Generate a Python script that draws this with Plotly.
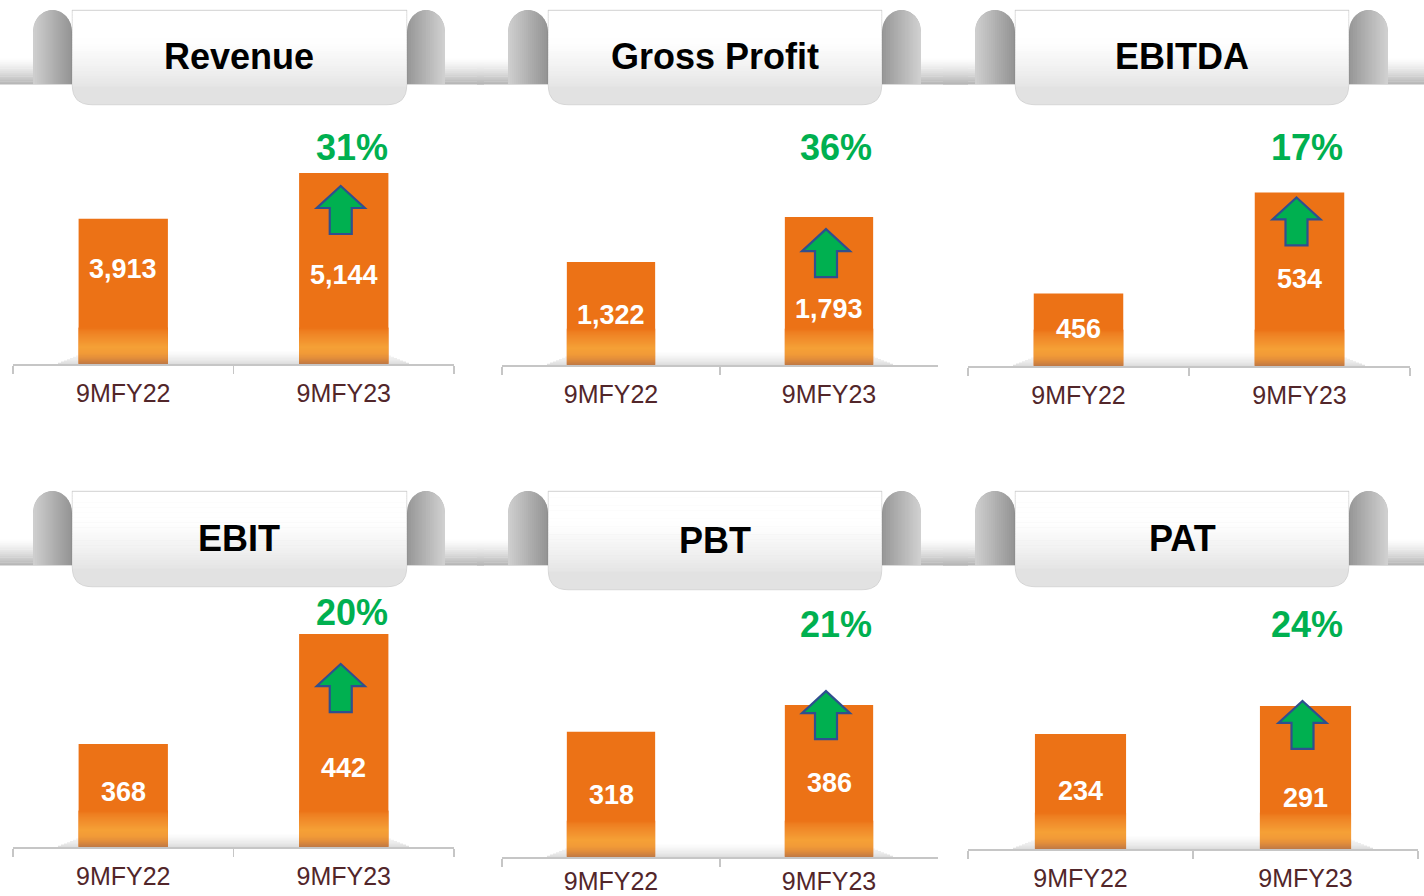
import plotly.graph_objects as go

W, H = 1424, 896

# ---------------- data ----------------
categories = ["9MFY22", "9MFY23"]
titles = ["Revenue", "Gross Profit", "EBITDA", "EBIT", "PBT", "PAT"]
revenue = [3913, 5144]
gross_profit = [1322, 1793]
ebitda = [456, 534]
ebit = [368, 442]
pbt = [318, 386]
pat = [234, 291]
growth = ["31%", "36%", "17%", "20%", "21%", "24%"]
series = [revenue, gross_profit, ebitda, ebit, pbt, pat]

# ---------------- layout geometry (pixels) ----------------
PANELS = [
    dict(ax=(13, 454), base=364, y0=0, s=191 / 5144, ban=(72, 407), by=(10, 105),
         tl=(33, 72), tr=(407, 445), ty=56, pct=(352, 147), drops=(50, 102), arr=13, so=6),
    dict(ax=(502, 938), base=365, y0=244, s=0.0955, ban=(548, 882), by=(10, 105),
         tl=(508, 548), tr=(882, 921), ty=56, pct=(836, 147), drops=(53, 92), arr=12, so=6),
    dict(ax=(968, 1410), base=366, y0=400, s=1.295, ban=(1015, 1349), by=(10, 105),
         tl=(975, 1015), tr=(1349, 1388), ty=56, pct=(1307, 147), drops=(36, 87), arr=5, so=6),
    dict(ax=(13, 454), base=847, y0=298.7, s=1.486, ban=(72, 407), by=(491, 587),
         tl=(33, 72), tr=(407, 445), ty=538, pct=(352, 612), drops=(48, 134), arr=30, so=6),
    dict(ax=(502, 938), base=857, y0=0, s=0.3935, ban=(548, 882), by=(491, 590),
         tl=(508, 548), tr=(882, 921), ty=540, pct=(836, 624), drops=(63, 78), arr=-14, so=1),
    dict(ax=(968, 1418), base=849, y0=0, s=0.4915, ban=(1015, 1349), by=(491, 587),
         tl=(975, 1015), tr=(1349, 1388), ty=538, pct=(1307, 624), drops=(57, 92), arr=-5, so=6),
]

BAR_COLOR = "#EC7216"
FONT = "Liberation Sans, Arial, sans-serif"
BARGAP = 0.595
HALF = (1 - BARGAP) / 2

# bar-foot gloss key colours: (pixels above baseline, colour)
GLOSS = [(36, "#EC7216"), (33, "#EE7E20"), (26, "#F18D2B"), (17, "#F5A036"),
         (11, "#F29B37"), (6, "#E38E3A"), (2, "#CC7F40"), (0, "#BE7946")]


def X(px):
    return px / W


def Y(py):
    return 1 - py / H


def gray(level, alpha=1.0):
    level = int(max(0, min(255, round(level))))
    if alpha >= 1:
        return f"rgb({level},{level},{level})"
    return f"rgba({level},{level},{level},{alpha})"


def hexrgb(c):
    return [int(c[i:i + 2], 16) for i in (1, 3, 5)]


def gloss_color(h):
    for (h0, c0), (h1, c1) in zip(GLOSS[:-1], GLOSS[1:]):
        if h1 <= h <= h0:
            t = (h0 - h) / (h0 - h1) if h0 != h1 else 0
            a, b = hexrgb(c0), hexrgb(c1)
            return "rgb(%d,%d,%d)" % tuple(round(a[i] + (b[i] - a[i]) * t) for i in range(3))
    return GLOSS[-1][1]


fig = go.Figure()
shapes = []
annotations = []

for k, (p, vals, title, g) in enumerate(zip(PANELS, series, titles, growth), start=1):
    xa = "x" if k == 1 else f"x{k}"
    ya = "y" if k == 1 else f"y{k}"
    fig.add_trace(go.Bar(
        x=categories, y=vals, xaxis=xa, yaxis=ya,
        marker=dict(color=BAR_COLOR, line=dict(width=0)),
        hoverinfo="skip", showlegend=False,
    ))
    top_px = p["base"] - 260
    y1 = p["y0"] + (p["base"] - top_px) / p["s"]
    sfx = "" if k == 1 else str(k)
    fig.update_layout(**{
        f"xaxis{sfx}": dict(
            domain=[X(p["ax"][0]), X(p["ax"][1])], anchor=ya, type="category",
            range=[-0.5, 1.5], showline=True, linecolor="#C6C6C6", linewidth=1.5,
            ticks="outside", tickson="boundaries", ticklen=8, tickcolor="#C6C6C6",
            tickwidth=1.5, tickfont=dict(size=25, color="#52262A", family=FONT),
            showgrid=False, zeroline=False, fixedrange=True, ticklabelstandoff=p["so"],
            automargin=False,
        ),
        f"yaxis{sfx}": dict(
            domain=[Y(p["base"]), Y(top_px)], anchor=xa, range=[p["y0"], y1],
            visible=False, fixedrange=True, automargin=False,
        ),
    })

    # --- baseline shadow (below bars) ---
    ax0, ax1 = p["ax"]
    base = p["base"]
    for j in range(12):
        yb = base - 1.2 * j
        inset = 45 + j * 3
        shapes.append(dict(type="rect", xref="paper", yref="paper", layer="below",
                           x0=X(ax0 + inset), x1=X(ax1 - inset), y0=Y(yb), y1=Y(yb - 1.2),
                           fillcolor=f"rgba(0,0,0,{0.13 * (1 - j / 12) ** 1.5:.3f})",
                           line=dict(width=0)))

    # --- glossy foot of bars (1px strips) ---
    for i in range(2):
        for hh in range(36):
            shapes.append(dict(type="rect", xref=xa, yref="paper", layer="above",
                               x0=i - HALF, x1=i + HALF,
                               y0=Y(base - hh), y1=Y(base - hh - 1.6),
                               fillcolor=gloss_color(hh + 0.5), line=dict(width=0)))

    # --- value labels inside bars ---
    for i, v in enumerate(vals):
        annotations.append(dict(
            x=categories[i], y=v, xref=xa, yref=ya, yanchor="middle", xanchor="center",
            yshift=-p["drops"][i], showarrow=False, text=f"<b>{v:,}</b>",
            font=dict(size=27, color="white", family=FONT)))

    # --- green up arrow on second bar ---
    off = p["arr"]
    cx = -3
    ty = -off
    pts = [(cx, ty), (cx + 24, ty - 22), (cx + 11, ty - 22), (cx + 11, ty - 48),
           (cx - 11, ty - 48), (cx - 11, ty - 22), (cx - 24, ty - 22)]
    path = "M " + " L ".join(f"{a},{b}" for a, b in pts) + " Z"
    shapes.append(dict(type="path", xref=xa, yref=ya, xsizemode="pixel", ysizemode="pixel",
                       xanchor=1, yanchor=vals[1], path=path, layer="above",
                       fillcolor="#00B050", line=dict(color="#2F4F8F", width=2.2)))

    # --- growth percentage ---
    annotations.append(dict(x=X(p["pct"][0]), y=Y(p["pct"][1]), xref="paper", yref="paper",
                            xanchor="center", yanchor="middle", showarrow=False,
                            text=f"<b>{g}</b>", font=dict(size=36, color="#00B050", family=FONT)))

    # --- banner ---
    btop, bbot = p["by"]
    band_top, band_bot = btop + 48, btop + 74
    bx0 = 0 if ax0 < 100 else ax0 - 25
    bx1 = min(W, ax1 + 30)
    nb = 20
    for j in range(nb):
        t = (j + 1) / nb
        shapes.append(dict(type="rect", xref="paper", yref="paper", layer="above",
                           x0=X(bx0), x1=X(bx1),
                           y0=Y(band_top + (band_bot - band_top) * (j + 1) / nb + 0.4),
                           y1=Y(band_top + (band_bot - band_top) * j / nb),
                           fillcolor=gray(255 - 72 * t ** 1.4), line=dict(width=0)))

    # tabs (rounded tops, horizontal shading)
    for (tx0, tx1), light_left in ((p["tl"], True), (p["tr"], False)):
        r = (tx1 - tx0) / 2
        cxm = (tx0 + tx1) / 2

        def arch(xx, r=r, cxm=cxm):
            u = max(-1.0, min(1.0, (xx - cxm) / r))
            return btop + 22 * (1 - (1 - u * u) ** 0.5)

        npt = 40
        outline = [(tx0 + (tx1 - tx0) * q / npt) for q in range(npt + 1)]
        pth = f"M {X(tx0)},{Y(band_bot)} " + " ".join(
            f"L {X(xx)},{Y(arch(xx))}" for xx in outline) + f" L {X(tx1)},{Y(band_bot)} Z"
        shapes.append(dict(type="path", xref="paper", yref="paper", layer="above",
                           path=pth, fillcolor=gray(178), line=dict(width=0)))
        ns = 20
        for j in range(ns):
            xa0 = tx0 + (tx1 - tx0) * j / ns
            xa1 = min(tx1, tx0 + (tx1 - tx0) * (j + 1) / ns + 0.6)
            t = (j + 0.5) / ns
            lv = 208 - 62 * t if light_left else 150 + 60 * t
            sub = [xa0 + (xa1 - xa0) * q / 4 for q in range(5)]
            pth = f"M {X(xa0)},{Y(band_bot)} " + " ".join(
                f"L {X(xx)},{Y(arch(xx) + 0.3)}" for xx in sub) + f" L {X(xa1)},{Y(band_bot)} Z"
            shapes.append(dict(type="path", xref="paper", yref="paper", layer="above",
                               path=pth, fillcolor=gray(lv), line=dict(width=0)))

    # white rounded label plate
    rx0, rx1 = p["ban"]
    rr = 20
    plate = (f"M {X(rx0)},{Y(btop)} L {X(rx1)},{Y(btop)} L {X(rx1)},{Y(bbot - rr)} "
             f"Q {X(rx1)},{Y(bbot)} {X(rx1 - rr)},{Y(bbot)} L {X(rx0 + rr)},{Y(bbot)} "
             f"Q {X(rx0)},{Y(bbot)} {X(rx0)},{Y(bbot - rr)} Z")
    shapes.append(dict(type="path", xref="paper", yref="paper", layer="above", path=plate,
                       fillcolor="#E2E2E2", line=dict(color="rgba(0,0,0,0.07)", width=1)))
    ng = 30
    span = (bbot - rr) - btop
    for j in range(ng):
        t = (j + 0.5) / ng
        lv = 255 - 26 * max(0.0, (t - 0.35) / 0.65) ** 1.3
        shapes.append(dict(type="rect", xref="paper", yref="paper", layer="above",
                           x0=X(rx0 + 0.7), x1=X(rx1 - 0.7),
                           y0=Y(btop + 1 + span * (j + 1) / ng + 0.4), y1=Y(btop + 1 + span * j / ng),
                           fillcolor=gray(lv), line=dict(width=0)))
    annotations.append(dict(x=X((rx0 + rx1) / 2), y=Y(p["ty"]), xref="paper", yref="paper",
                            xanchor="center", yanchor="middle", showarrow=False,
                            text=f"<b>{title}</b>", font=dict(size=36, color="black", family=FONT)))

fig.update_layout(
    width=W, height=H, autosize=False,
    margin=dict(l=0, r=0, t=0, b=0, pad=0),
    paper_bgcolor="white", plot_bgcolor="rgba(0,0,0,0)",
    bargap=BARGAP, showlegend=False,
    shapes=shapes, annotations=annotations,
    font=dict(family=FONT),
)

fig.write_html("out.html", config={"displayModeBar": False, "staticPlot": True},
               post_script="document.body.style.margin='0';document.body.style.overflow='hidden';")
